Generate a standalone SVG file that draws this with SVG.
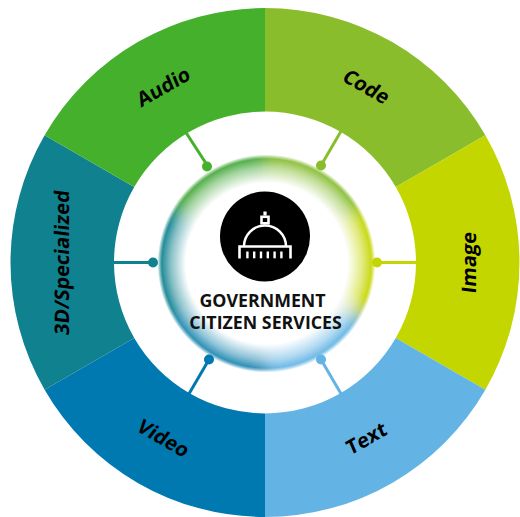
<svg xmlns="http://www.w3.org/2000/svg" width="520" height="517" viewBox="0 0 520 517">
<style>
.lbl{font-family:"Open Sans","DejaVu Sans",sans-serif;font-weight:700;font-size:20px;fill:#000;text-anchor:middle}
.ctr{font-family:"Open Sans","DejaVu Sans",sans-serif;font-weight:700;font-size:17.8px;fill:#111;text-anchor:middle}
.icon{fill:none;stroke:#fff;stroke-width:2.6}
</style>
<defs>
<filter id="blur" x="-30%" y="-30%" width="160%" height="160%"><feGaussianBlur stdDeviation="8"/></filter>
<radialGradient id="wh" cx="0.5" cy="0.5" r="0.5">
<stop offset="0" stop-color="#fff"/>
<stop offset="0.74" stop-color="#fff"/>
<stop offset="0.88" stop-color="#fff" stop-opacity="0.5"/>
<stop offset="0.98" stop-color="#fff" stop-opacity="0"/>
</radialGradient>
<radialGradient id="edge" cx="0.5" cy="0.5" r="0.5">
<stop offset="0.96" stop-color="#fff"/>
<stop offset="1" stop-color="#000"/>
</radialGradient>
<mask id="cm"><circle cx="266.5" cy="263.5" r="109" fill="url(#edge)"/></mask>
</defs>
<rect width="520" height="517" fill="#fff"/>
<g id="ring">
<g id="code"><path d="M265 8A254.5 254.5 0 0 1 485.4 135.25L395.77 187A151 151 0 0 0 265 111.5Z" fill="#8abd2b"/>
<text class="lbl" transform="translate(366.5 86.7) rotate(30) skewX(-7)" dy="0.35em">Code</text></g>
<g id="image"><path d="M485.4 135.25A254.5 254.5 0 0 1 485.4 389.75L395.77 338A151 151 0 0 0 395.77 187Z" fill="#c4d600"/>
<text class="lbl" transform="translate(468.5 262.5) rotate(-90) skewX(-7)" dy="0.35em">Image</text></g>
<g id="text"><path d="M485.4 389.75A254.5 254.5 0 0 1 265 517L265 413.5A151 151 0 0 0 395.77 338Z" fill="#63b4e4"/>
<text class="lbl" transform="translate(366.5 438.3) rotate(-30) skewX(-7)" dy="0.35em">Text</text></g>
<g id="video"><path d="M265 517A254.5 254.5 0 0 1 44.6 389.75L134.23 338A151 151 0 0 0 265 413.5Z" fill="#0079b1"/>
<text class="lbl" transform="translate(163.5 438.3) rotate(30) skewX(-7)" dy="0.35em">Video</text></g>
<g id="specialized"><path d="M44.6 389.75A254.5 254.5 0 0 1 44.6 135.25L134.23 187A151 151 0 0 0 134.23 338Z" fill="#10818e"/>
<text class="lbl" transform="translate(62 262.5) rotate(-90) skewX(-7)" dy="0.35em">3D/Specialized</text></g>
<g id="audio"><path d="M44.6 135.25A254.5 254.5 0 0 1 265 8L265 111.5A151 151 0 0 0 134.23 187Z" fill="#45b02c"/>
<text class="lbl" transform="translate(163.5 86.7) rotate(-30) skewX(-7)" dy="0.35em">Audio</text></g>
</g>
<g id="connectors" stroke-width="3">
<line x1="321" y1="165.5" x2="342" y2="129.5" stroke="#8abd2b"/>
<line x1="377" y1="262.5" x2="418" y2="262.5" stroke="#c4d600"/>
<line x1="321" y1="359.5" x2="342" y2="395.5" stroke="#63b4e4"/>
<line x1="209" y1="359.5" x2="188" y2="395.5" stroke="#0079b1"/>
<line x1="153" y1="262.5" x2="112" y2="262.5" stroke="#10818e"/>
<line x1="208" y1="166.5" x2="185" y2="131" stroke="#45b02c"/>
</g>
<g id="center">
<g mask="url(#cm)">
<g filter="url(#blur)">
<path d="M266.5 263.5L266.5 133.5A130 130 0 0 1 379.1 198.5Z" fill="#86bd32"/>
<path d="M266.5 263.5L379.1 198.5A130 130 0 0 1 379.1 328.5Z" fill="#c4d600"/>
<path d="M266.5 263.5L379.1 328.5A130 130 0 0 1 266.5 393.5Z" fill="#63b4e4"/>
<path d="M266.5 263.5L266.5 393.5A130 130 0 0 1 153.9 328.5Z" fill="#1a86b0"/>
<path d="M266.5 263.5L153.9 328.5A130 130 0 0 1 153.9 198.5Z" fill="#10818e"/>
<path d="M266.5 263.5L153.9 198.5A130 130 0 0 1 266.5 133.5Z" fill="#45a83a"/>
</g>
<circle cx="266.5" cy="263.5" r="109" fill="url(#wh)"/>
</g>
<circle cx="265" cy="236.5" r="45" fill="#000"/>
<g id="dome">
<rect x="263.4" y="211.5" width="3.2" height="4" fill="#fff"/>
<rect x="261.5" y="216.8" width="7" height="6.5" class="icon" stroke-width="2.4"/>
<path d="M244 246.5A21 21 0 0 1 286 246.5" class="icon" stroke-width="2.8"/>
<path d="M239.5 258.5V246.5H290.5V258.5" class="icon" stroke-width="2.6"/>
<g fill="#fff">
<rect x="246.2" y="251.5" width="2.4" height="6.8"/>
<rect x="253" y="251.5" width="2.4" height="6.8"/>
<rect x="259.8" y="251.5" width="2.4" height="6.8"/>
<rect x="266.6" y="251.5" width="2.4" height="6.8"/>
<rect x="273.4" y="251.5" width="2.4" height="6.8"/>
<rect x="280.2" y="251.5" width="2.4" height="6.8"/>
</g>
</g>
<text class="ctr" x="262.5" y="306.5">GOVERNMENT</text>
<text class="ctr" x="265.5" y="329">CITIZEN SERVICES</text>
</g>
<g id="dots">
<circle cx="321" cy="165.5" r="5" fill="#8abd2b"/>
<circle cx="377" cy="262.5" r="5" fill="#c4d600"/>
<circle cx="321" cy="359.5" r="5" fill="#63b4e4"/>
<circle cx="209" cy="359.5" r="5" fill="#0079b1"/>
<circle cx="153" cy="262.5" r="5" fill="#10818e"/>
<circle cx="207" cy="166.5" r="5" fill="#45b02c"/>
</g>
</svg>
